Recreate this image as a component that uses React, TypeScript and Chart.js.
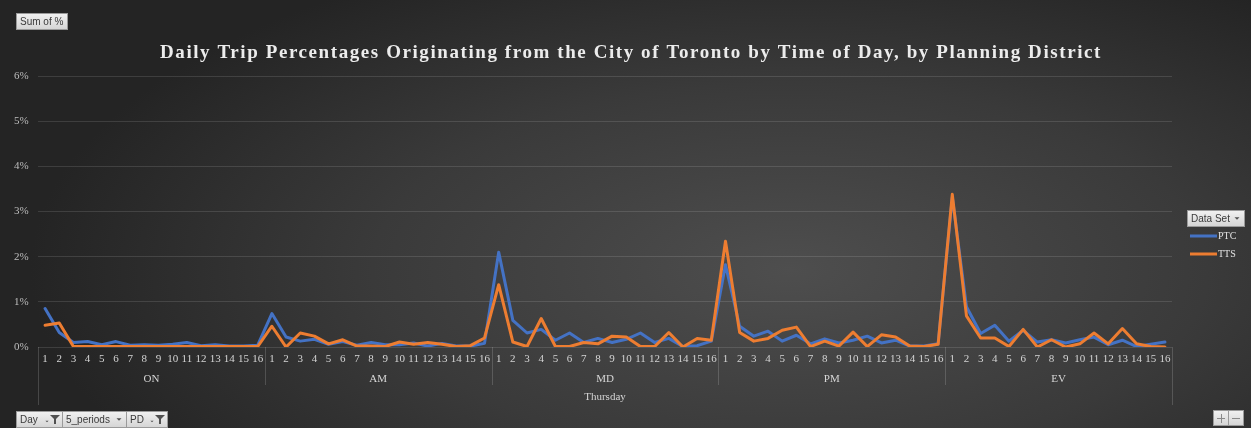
import { useEffect, useRef } from 'react';
import { Chart, registerables } from 'chart.js';

Chart.register(...registerables);

const W = 1251;
const H = 428;

const titleText =
  'Daily Trip Percentages Originating from the City of Toronto by Time of Day, by Planning District';
const dayLabel = 'Thursday';
const periods = ['ON', 'AM', 'MD', 'PM', 'EV'];
const districts = ['1', '2', '3', '4', '5', '6', '7', '8', '9', '10', '11', '12', '13', '14', '15', '16'];
const seriesNames = ['PTC', 'TTS'];
const seriesColors = ['#4472C4', '#ED7D31'];
const yTicks = [0, 1, 2, 3, 4, 5, 6];

// Sum of % by planning district, one array per time period
const ptcON = [0.85, 0.32, 0.1, 0.12, 0.05, 0.12, 0.04, 0.05, 0.04, 0.06, 0.1, 0.03, 0.05, 0.02, 0.02, 0.04];
const ptcAM = [0.74, 0.22, 0.13, 0.17, 0.06, 0.12, 0.04, 0.1, 0.05, 0.05, 0.09, 0.02, 0.08, 0.02, 0.02, 0.08];
const ptcMD = [2.1, 0.59, 0.31, 0.39, 0.15, 0.31, 0.1, 0.19, 0.1, 0.17, 0.31, 0.1, 0.19, 0.01, 0.03, 0.13];
const ptcPM = [1.82, 0.46, 0.24, 0.35, 0.13, 0.26, 0.07, 0.18, 0.09, 0.15, 0.24, 0.09, 0.15, 0.02, 0.02, 0.07];
const ptcEV = [3.32, 0.89, 0.3, 0.48, 0.13, 0.37, 0.11, 0.16, 0.09, 0.16, 0.22, 0.05, 0.15, 0.01, 0.06, 0.11];

const ttsON = [0.48, 0.53, 0.01, 0.01, 0.01, 0.01, 0.01, 0.01, 0.01, 0.01, 0.01, 0.01, 0.01, 0.01, 0.01, 0.01];
const ttsAM = [0.46, 0.0, 0.31, 0.24, 0.07, 0.16, 0.02, 0.02, 0.01, 0.11, 0.06, 0.1, 0.06, 0.01, 0.03, 0.2];
const ttsMD = [1.38, 0.11, 0.01, 0.63, 0.01, 0.01, 0.1, 0.07, 0.24, 0.22, 0.01, 0.01, 0.32, 0.0, 0.19, 0.15];
const ttsPM = [2.34, 0.32, 0.13, 0.19, 0.37, 0.44, 0.01, 0.13, 0.02, 0.33, 0.01, 0.27, 0.22, 0.02, 0.01, 0.06];
const ttsEV = [3.38, 0.69, 0.2, 0.2, 0.01, 0.39, 0.0, 0.16, 0.0, 0.07, 0.31, 0.07, 0.41, 0.07, 0.01, 0.0];

const SERIF = '"Liberation Serif", "Times New Roman", serif';
const SANS = '"Liberation Sans", Arial, sans-serif';

type Icon = 'none' | 'arrow' | 'filter';

function drawArrow(ctx: CanvasRenderingContext2D, cx: number, cy: number, s: number) {
  ctx.beginPath();
  ctx.moveTo(cx - s, cy - s / 2);
  ctx.lineTo(cx + s, cy - s / 2);
  ctx.lineTo(cx, cy + s / 2);
  ctx.closePath();
  ctx.fill();
}

function drawFunnel(ctx: CanvasRenderingContext2D, cx: number, cy: number) {
  ctx.beginPath();
  ctx.moveTo(cx - 5, cy - 4);
  ctx.lineTo(cx + 5, cy - 4);
  ctx.lineTo(cx + 1, cy);
  ctx.lineTo(cx + 1, cy + 5);
  ctx.lineTo(cx - 1, cy + 5);
  ctx.lineTo(cx - 1, cy);
  ctx.closePath();
  ctx.fill();
}

function drawButton(
  ctx: CanvasRenderingContext2D,
  x: number,
  y: number,
  w: number,
  h: number,
  text: string,
  icon: Icon
) {
  const g = ctx.createLinearGradient(0, y, 0, y + h);
  g.addColorStop(0, '#f2f2f2');
  g.addColorStop(1, '#d4d4d4');
  ctx.fillStyle = g;
  ctx.fillRect(x, y, w, h);
  ctx.strokeStyle = '#9a9a9a';
  ctx.lineWidth = 1;
  ctx.strokeRect(x + 0.5, y + 0.5, w - 1, h - 1);
  ctx.fillStyle = '#3a3a3a';
  ctx.font = `10px ${SANS}`;
  ctx.textAlign = 'left';
  ctx.textBaseline = 'middle';
  ctx.fillText(text, x + 4, y + h / 2 + 0.5);
  ctx.fillStyle = '#505050';
  if (icon === 'arrow') {
    drawArrow(ctx, x + w - 8, y + h / 2, 2.5);
  } else if (icon === 'filter') {
    drawArrow(ctx, x + w - 16, y + h / 2 + 2, 1.6);
    drawFunnel(ctx, x + w - 8, y + h / 2 - 0.5);
  }
}

const decorPlugin = {
  id: 'decor',
  beforeDraw(chart: Chart) {
    const ctx = chart.ctx;
    ctx.save();
    ctx.fillStyle = '#252525';
    ctx.fillRect(0, 0, W, H);
    ctx.translate(790, 270);
    ctx.scale(760, 340);
    const rg = ctx.createRadialGradient(0, 0, 0, 0, 0, 1);
    rg.addColorStop(0, '#4e4e4e');
    rg.addColorStop(0.55, '#3a3a3a');
    rg.addColorStop(1, '#242424');
    ctx.fillStyle = rg;
    ctx.fillRect(-3, -3, 6, 6);
    ctx.restore();

    // title with widened letter spacing
    ctx.save();
    ctx.font = `bold 19px ${SERIF}`;
    const base = ctx.measureText(titleText).width;
    const target = 940;
    const spacing = Math.max(0, (target - base) / (titleText.length - 1));
    (ctx as any).letterSpacing = `${spacing.toFixed(2)}px`;
    ctx.fillStyle = '#ececec';
    ctx.textAlign = 'left';
    ctx.textBaseline = 'alphabetic';
    ctx.fillText(titleText, 160, 58);
    ctx.restore();
  },
  afterDraw(chart: Chart) {
    const ctx = chart.ctx;
    const area = chart.chartArea;
    const xs = chart.scales.x;
    const n = districts.length;
    ctx.save();

    // period separators below the axis
    ctx.strokeStyle = 'rgba(255,255,255,0.16)';
    ctx.lineWidth = 1;
    for (let i = 0; i <= periods.length; i++) {
      let x: number;
      if (i === 0) x = area.left;
      else if (i === periods.length) x = area.right;
      else x = (xs.getPixelForValue(i * n - 1) + xs.getPixelForValue(i * n)) / 2;
      const outer = i === 0 || i === periods.length;
      ctx.beginPath();
      ctx.moveTo(Math.round(x) + 0.5, area.bottom);
      ctx.lineTo(Math.round(x) + 0.5, outer ? 405 : 385);
      ctx.stroke();
    }

    // period labels
    ctx.fillStyle = '#d6d6d6';
    ctx.font = `11px ${SERIF}`;
    ctx.textAlign = 'center';
    ctx.textBaseline = 'middle';
    periods.forEach((p, i) => {
      const x0 = xs.getPixelForValue(i * n);
      const x1 = xs.getPixelForValue(i * n + n - 1);
      ctx.fillText(p, (x0 + x1) / 2, 379);
    });
    ctx.fillText(dayLabel, (area.left + area.right) / 2, 397);

    // legend
    drawButton(ctx, 1187, 210, 58, 17, 'Data Set', 'arrow');
    chart.data.datasets.forEach((ds, i) => {
      const y = 236 + i * 18;
      ctx.strokeStyle = ds.borderColor as string;
      ctx.lineWidth = 3;
      ctx.beginPath();
      ctx.moveTo(1190, y);
      ctx.lineTo(1217, y);
      ctx.stroke();
      ctx.fillStyle = '#e2e2e2';
      ctx.font = `10px ${SERIF}`;
      ctx.textAlign = 'left';
      ctx.textBaseline = 'middle';
      ctx.fillText(ds.label as string, 1218, y + 0.5);
    });

    // pivot field buttons
    drawButton(ctx, 16, 13, 52, 17, 'Sum of %', 'none');
    drawButton(ctx, 16, 411, 47, 17, 'Day', 'filter');
    drawButton(ctx, 62, 411, 65, 17, '5_periods', 'arrow');
    drawButton(ctx, 126, 411, 42, 17, 'PD', 'filter');

    // zoom buttons
    drawButton(ctx, 1213, 410, 16, 16, '', 'none');
    drawButton(ctx, 1228, 410, 16, 16, '', 'none');
    ctx.strokeStyle = '#8a8a8a';
    ctx.lineWidth = 1;
    ctx.beginPath();
    ctx.moveTo(1217, 418.5);
    ctx.lineTo(1225, 418.5);
    ctx.moveTo(1221.5, 414);
    ctx.lineTo(1221.5, 423);
    ctx.moveTo(1232, 418.5);
    ctx.lineTo(1240, 418.5);
    ctx.stroke();

    ctx.restore();
  },
};

export default function App() {
  const canvasRef = useRef<HTMLCanvasElement | null>(null);

  useEffect(() => {
    const canvas = canvasRef.current;
    if (!canvas) return;
    const labels = periods.flatMap(() => districts);
    const ptc = [...ptcON, ...ptcAM, ...ptcMD, ...ptcPM, ...ptcEV];
    const tts = [...ttsON, ...ttsAM, ...ttsMD, ...ttsPM, ...ttsEV];

    const lineStyle = {
      borderWidth: 3,
      pointRadius: 0,
      pointHoverRadius: 0,
      tension: 0,
      fill: false,
      borderJoinStyle: 'round' as const,
      borderCapStyle: 'round' as const,
    };

    const chart = new Chart(canvas, {
      type: 'line',
      data: {
        labels,
        datasets: [
          { label: seriesNames[0], data: ptc, borderColor: seriesColors[0], backgroundColor: seriesColors[0], order: 2, ...lineStyle },
          { label: seriesNames[1], data: tts, borderColor: seriesColors[1], backgroundColor: seriesColors[1], order: 1, ...lineStyle },
        ],
      },
      options: {
        responsive: false,
        animation: false,
        events: [],
        layout: { padding: { left: 14, right: 79, top: 76, bottom: 0 } },
        plugins: {
          legend: { display: false },
          title: { display: false },
          tooltip: { enabled: false },
        },
        scales: {
          x: {
            type: 'category',
            offset: true,
            grid: { display: false, drawTicks: false },
            border: { display: false },
            ticks: {
              autoSkip: false,
              maxRotation: 0,
              minRotation: 0,
              padding: 6,
              color: '#d4d4d4',
              font: { family: SERIF, size: 11 },
            },
            afterFit: (s: any) => {
              s.height = H - 347;
            },
          },
          y: {
            min: yTicks[0],
            max: yTicks[yTicks.length - 1],
            afterBuildTicks: (s: any) => {
              s.ticks = yTicks.map((v) => ({ value: v }));
            },
            ticks: {
              callback: (v: any) => `${v}%`,
              crossAlign: 'far',
              padding: 0,
              color: '#bdbdbd',
              font: { family: SERIF, size: 11 },
            },
            grid: { color: 'rgba(255,255,255,0.12)', drawTicks: false, lineWidth: 1 },
            border: { display: false },
            afterFit: (s: any) => {
              s.width = 24;
            },
          },
        },
      },
      plugins: [decorPlugin],
    });

    return () => chart.destroy();
  }, []);

  return (
    <div style={{ position: 'fixed', left: 0, top: 0, width: W, height: H }}>
      <canvas ref={canvasRef} width={W} height={H} style={{ display: 'block', width: W, height: H }} />
    </div>
  );
}
